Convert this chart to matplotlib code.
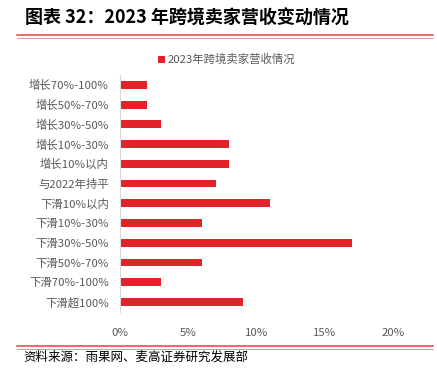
import matplotlib
matplotlib.use("Agg")
import matplotlib.pyplot as plt
from matplotlib.lines import Line2D
from matplotlib.ticker import FuncFormatter

plt.rcParams['font.family'] = ['Noto Sans CJK SC', 'DejaVu Sans']

# categories from top to bottom
categories = ['增长70%-100%', '增长50%-70%', '增长30%-50%', '增长10%-30%', '增长10%以内',
              '与2022年持平', '下滑10%以内', '下滑10%-30%', '下滑30%-50%', '下滑50%-70%',
              '下滑70%-100%', '下滑超100%']
values = [2, 2, 3, 8, 8, 7, 11, 6, 17, 6, 3, 9]  # percent
series_name = '2023年跨境卖家营收情况'
title = '图表 32：2023 年跨境卖家营收变动情况'
source = '资料来源：雨果网、麦高证券研究发展部'

red = '#E0242A'
gray = '#595959'

fig = plt.figure(figsize=(4.37, 3.73), dpi=100)
ax = fig.add_axes([0.2746, 0.164, 0.625, 0.635])

pos = list(range(len(categories)))[::-1]
ax.barh(pos, values, height=0.4, color=red, label=series_name)
ax.set_yticks(pos)
ax.set_yticklabels(categories)
ax.set_ylim(-0.5, len(categories) - 0.5)
ax.set_xlim(0, 20)
ax.set_xticks([0, 5, 10, 15, 20])
ax.xaxis.set_major_formatter(FuncFormatter(lambda v, p: f'{v:.0f}%'))
ax.tick_params(length=0, labelsize=8.2, labelcolor=gray)
ax.tick_params(axis='x', pad=12)
ax.tick_params(axis='y', pad=8)
for s in ['top', 'right', 'bottom']:
    ax.spines[s].set_visible(False)
ax.spines['left'].set_color('#D9D9D9')

ax.legend(loc='center', bbox_to_anchor=(0.39, 1.065), frameon=False,
          fontsize=8.2, labelcolor=gray, handlelength=0.6, handleheight=0.6,
          handletextpad=0.2)

fig.text(0.057, 0.951, title, fontsize=13, fontweight='bold', color='black', va='center')
fig.add_artist(Line2D([0.039, 0.99], [0.905, 0.905], color=red, lw=1.2, alpha=0.8))
fig.add_artist(Line2D([0.039, 0.99], [0.897, 0.897], color=red, lw=0.6, alpha=0.6))
fig.add_artist(Line2D([0.039, 0.99], [0.073, 0.073], color=red, lw=1.2, alpha=0.8))
fig.add_artist(Line2D([0.039, 0.99], [0.065, 0.065], color=red, lw=0.6, alpha=0.6))
fig.text(0.053, 0.044, source, fontsize=9, color='black', va='center')

fig.savefig('out.png', dpi=100)
